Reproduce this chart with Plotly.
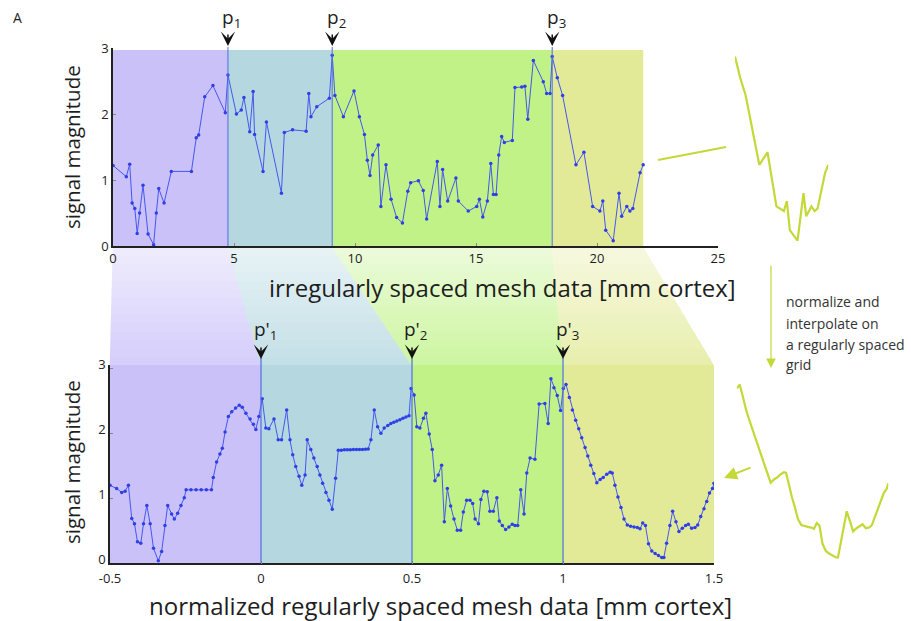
import plotly.graph_objects as go

W, H = 911, 621
FONT = "Open Sans"

# ---------------- data ----------------
top_x = [0.0, 0.55, 0.69, 0.79, 0.90, 1.00, 1.10, 1.24, 1.45, 1.68, 1.79, 1.89, 2.11, 2.41, 3.24,
         3.44, 3.54, 3.79, 4.13, 4.64, 4.75, 5.10, 5.30, 5.41, 5.65, 5.79, 5.85, 6.20, 6.34, 6.96,
         7.08, 7.42, 7.98, 8.09, 8.18, 8.42, 8.94, 9.06, 9.17, 9.52, 9.96, 10.18, 10.39, 10.51,
         10.62, 10.73, 10.96, 11.07, 11.28, 11.49, 11.72, 11.96, 12.18, 12.30, 12.62, 12.82,
         12.96, 13.40, 13.51, 13.62, 13.83, 14.17, 14.27, 14.68, 15.03, 15.14, 15.28, 15.47,
         15.61, 15.72, 15.83, 15.94, 16.06, 16.17, 16.50, 16.61, 16.89, 17.02, 17.14, 17.37,
         17.78, 17.92, 18.06, 18.15, 18.36, 18.58, 19.13, 19.46, 19.82, 20.12, 20.24, 20.36,
         20.67, 20.91, 21.02, 21.23, 21.36, 21.48, 21.78, 21.91]
top_y = [1.22, 1.05, 1.24, 0.65, 0.57, 0.19, 0.50, 0.92, 0.18, 0.02, 0.50, 0.87, 0.65, 1.13, 1.13,
         1.64, 1.68, 2.26, 2.43, 2.02, 2.59, 2.00, 2.06, 2.25, 1.73, 2.34, 1.69, 1.13, 1.88, 0.80,
         1.72, 1.76, 1.74, 2.31, 1.96, 2.11, 2.24, 2.89, 2.28, 1.96, 2.35, 1.96, 1.69, 1.30,
         1.07, 1.38, 1.53, 0.60, 1.23, 0.71, 0.43, 0.35, 0.83, 0.96, 0.99, 0.84,
         0.41, 1.28, 0.60, 1.16, 0.68, 1.03, 0.68, 0.53, 0.60, 0.71, 0.44, 0.68,
         1.25, 0.78, 0.78, 1.38, 1.66, 1.57, 1.60, 2.40, 2.41, 2.42, 1.92, 2.81,
         2.49, 2.31, 2.31, 2.87, 2.55, 2.28, 1.23, 1.42, 0.60, 0.53, 0.68, 0.24,
         0.08, 0.80, 0.45, 0.60, 0.53, 0.57, 1.11, 1.23]

bot_x = [-0.5, -0.478, -0.461, -0.45, -0.439, -0.428, -0.419, -0.409, -0.398, -0.389, -0.378,
         -0.367, -0.356, -0.340, -0.329, -0.318, -0.309, -0.296, -0.287, -0.276, -0.265, -0.254,
         -0.248, -0.232, -0.215, -0.198, -0.181, -0.164, -0.158, -0.147, -0.136, -0.128, -0.119,
         -0.108, -0.097, -0.084, -0.072, -0.062, -0.050, -0.036, -0.025, -0.017, -0.007, 0.004,
         0.016, 0.026, 0.043, 0.057, 0.068, 0.085, 0.096, 0.105, 0.115, 0.126, 0.135, 0.146,
         0.153, 0.165, 0.175, 0.186, 0.195, 0.204, 0.215, 0.225, 0.236, 0.247, 0.256, 0.266,
         0.276, 0.286, 0.296, 0.306, 0.316, 0.326, 0.336, 0.346, 0.355, 0.364, 0.375, 0.386,
         0.397, 0.408, 0.420, 0.430, 0.440, 0.450, 0.460, 0.470, 0.480, 0.490, 0.497, 0.507,
         0.516, 0.526, 0.538, 0.546, 0.557, 0.567, 0.576, 0.587, 0.598, 0.607, 0.617, 0.628,
         0.639, 0.650, 0.661, 0.670, 0.681, 0.692, 0.701, 0.709, 0.720, 0.728, 0.738, 0.749,
         0.758, 0.769, 0.781, 0.789, 0.799, 0.810, 0.821, 0.832, 0.841, 0.850, 0.860, 0.871,
         0.880, 0.891, 0.907, 0.921, 0.940, 0.951, 0.960, 0.970, 0.981, 0.992, 1.001, 1.010,
         1.021, 1.031, 1.042, 1.052, 1.062, 1.073, 1.082, 1.092, 1.102, 1.112, 1.123, 1.133,
         1.145, 1.156, 1.163, 1.172, 1.182, 1.192, 1.202, 1.213, 1.224, 1.235, 1.246, 1.255,
         1.264, 1.273, 1.283, 1.294, 1.305, 1.316, 1.327, 1.334, 1.343, 1.354, 1.363, 1.374,
         1.384, 1.395, 1.406, 1.415, 1.426, 1.437, 1.446, 1.456, 1.467, 1.476, 1.485, 1.495,
         1.5]
bot_y = [1.20, 1.15, 1.09, 1.11, 1.20, 0.69, 0.61, 0.33, 0.31, 0.61, 0.89,
         0.61, 0.23, 0.04, 0.18, 0.58, 0.89, 0.76, 0.68, 0.77, 0.89, 1.01,
         1.13, 1.13, 1.13, 1.13, 1.13, 1.13, 1.32, 1.56, 1.68, 1.77, 2.02,
         2.26, 2.33, 2.39, 2.43, 2.40, 2.31, 2.22, 2.14, 2.06, 2.26, 2.53,
         2.08, 2.07, 2.22, 1.90, 1.90, 2.36, 1.90, 1.67, 1.49, 1.34, 1.20, 1.36,
         1.90, 1.75, 1.62, 1.49, 1.36, 1.23, 1.09, 0.97, 0.83, 1.31, 1.74, 1.74,
         1.745, 1.745, 1.745, 1.75, 1.75, 1.75, 1.75, 1.755, 1.76, 1.90, 2.36, 2.10,
         2.00, 2.08, 2.12, 2.15, 2.17, 2.19, 2.21, 2.23, 2.25, 2.27, 2.69, 2.59,
         2.10, 2.08, 2.23, 2.31, 1.99, 1.75, 1.27, 1.36, 1.51, 0.64, 1.15, 0.88,
         0.68, 0.51, 0.51, 0.79, 0.97, 0.97, 0.92, 0.68, 0.61, 0.98, 1.11, 1.10,
         0.80, 0.80, 1.01, 0.65, 0.58, 0.52, 0.56, 0.60, 0.58, 0.58, 1.13, 0.76,
         1.39, 1.62, 1.60, 2.45, 2.46, 2.15, 2.84, 2.70, 2.58, 2.35, 2.69, 2.75,
         2.55, 2.36, 2.20, 2.07, 1.93, 1.78, 1.65, 1.51, 1.38, 1.24, 1.29, 1.32,
         1.37, 1.40, 1.39, 1.20, 1.02, 0.86, 0.68, 0.59, 0.57, 0.56, 0.55, 0.53,
         0.62, 0.58, 0.30, 0.19, 0.15, 0.12, 0.09, 0.09, 0.31, 0.58, 0.80, 0.64,
         0.49, 0.54, 0.58, 0.60, 0.54, 0.55, 0.59, 0.72, 0.84, 0.95, 1.08, 1.15,
         1.23]

top_bounds = [0.0, 4.75, 9.06, 18.15, 21.91]      # region edges; inner ones are p1..p3
bot_bounds = [-0.5, 0.0, 0.5, 1.0, 1.5]           # region edges; inner ones are p'1..p'3
region_rgb = [(202, 193, 249), (180, 215, 224), (192, 242, 136), (226, 234, 152)]
top_xticks = [0, 5, 10, 15, 20, 25]
bot_xticks = [-0.5, 0, 0.5, 1, 1.5]
bot_xticktext = ["-0.5", "0", "0.5", "1", "1.5"]
y_ticks = [0, 1, 2, 3]
top_p_labels = ["p<sub>1</sub>", "p<sub>2</sub>", "p<sub>3</sub>"]
bot_p_labels = ["p'<sub>1</sub>", "p'<sub>2</sub>", "p'<sub>3</sub>"]
top_xtitle = "irregularly spaced mesh data [mm cortex]"
bot_xtitle = "normalized regularly spaced mesh data [mm cortex]"
ytitle = "signal magnitude"
note_lines = ["normalize and", "interpolate on", "a regularly spaced", "grid"]

# ---------------- geometry (pixels) ----------------
TOPX = (113, 718); TOPY = (246, 48)       # x: 0..25 ; y: 0..3
BOTX = (110, 714); BOTY = (563.3, 365.0)  # x: -0.5..1.5 ; y: 0..BOT_YMAX
TOP_R = (0, 25); BOT_R = (-0.5, 1.5)
BOT_YMAX = (BOTY[0] - BOTY[1]) / 65.0

def px(xp):
    return xp / W

def py(yp):
    return 1 - yp / H

def top_px(x):
    return TOPX[0] + (x - TOP_R[0]) / (TOP_R[1] - TOP_R[0]) * (TOPX[1] - TOPX[0])

def bot_px(x):
    return BOTX[0] + (x - BOT_R[0]) / (BOT_R[1] - BOT_R[0]) * (BOTX[1] - BOTX[0])

def rgb(c, a=1.0):
    r, g, b = (round(255 * (1 - a) + v * a) for v in c)
    return f"rgb({r},{g},{b})"

LINE_C = "#4657ee"
MARK_C = "#2f3fe6"
THUMB_C = "#c4d838"
BOUND_C = "rgba(80,110,225,0.85)"

fig = go.Figure()
fig.add_trace(go.Scatter(x=top_x, y=top_y, mode="lines+markers", xaxis="x", yaxis="y",
                         line=dict(color=LINE_C, width=1), marker=dict(size=3.5, color=MARK_C),
                         hoverinfo="skip", showlegend=False))
fig.add_trace(go.Scatter(x=bot_x, y=bot_y, mode="lines+markers", xaxis="x2", yaxis="y2",
                         line=dict(color=LINE_C, width=1), marker=dict(size=3.5, color=MARK_C),
                         hoverinfo="skip", showlegend=False))

# thumbnails of the last region (copies of data)
p3 = top_bounds[3]
tx = [x for x in top_x if x >= p3]
ty = [y for x, y in zip(top_x, top_y) if x >= p3]
fig.add_trace(go.Scatter(x=tx, y=ty, mode="lines", xaxis="x3", yaxis="y",
                         line=dict(color=THUMB_C, width=2.2), hoverinfo="skip", showlegend=False,
                         cliponaxis=False))
bp3 = bot_bounds[3]
bx = [x for x in bot_x if x >= bp3]
by = [y for x, y in zip(bot_x, bot_y) if x >= bp3]
fig.add_trace(go.Scatter(x=bx, y=by, mode="lines", xaxis="x4", yaxis="y2",
                         line=dict(color=THUMB_C, width=2.2), hoverinfo="skip", showlegend=False,
                         cliponaxis=False))

shapes = []
# region rectangles
for i in range(4):
    shapes.append(dict(type="rect", xref="x", yref="y", x0=top_bounds[i], x1=top_bounds[i + 1],
                       y0=0, y1=2.97, fillcolor=rgb(region_rgb[i]), line=dict(width=0),
                       layer="below"))
    shapes.append(dict(type="rect", xref="x2", yref="y2", x0=bot_bounds[i], x1=bot_bounds[i + 1],
                       y0=0, y1=BOT_YMAX, fillcolor=rgb(region_rgb[i]), line=dict(width=0),
                       layer="below"))

# connecting trapezoids (fading towards the top plot), solid pre-blended colours
Y_A, Y_B = 247, 365.5
NB = 14
for b in range(NB):
    t0, t1 = b / NB, (b + 1) / NB
    ya = Y_A + (Y_B - Y_A) * t0
    yb = Y_A + (Y_B - Y_A) * t1
    a = 0.30 + 0.50 * (t0 + t1) / 2
    for i in range(4):
        def edge(k, t):
            return top_px(top_bounds[k]) + (bot_px(bot_bounds[k]) - top_px(top_bounds[k])) * t
        l0, r0 = edge(i, t0), edge(i + 1, t0)
        l1, r1 = edge(i, t1), edge(i + 1, t1)
        path = (f"M{px(l0 - 0.3)},{py(ya)} L{px(r0 + 0.3)},{py(ya)} L{px(r1 + 0.3)},{py(yb + 0.8)} "
                f"L{px(l1 - 0.3)},{py(yb + 0.8)} Z")
        shapes.append(dict(type="path", xref="paper", yref="paper", path=path,
                           fillcolor=rgb(region_rgb[i], a), line=dict(width=0), layer="below"))

# boundary lines at p positions
for p in top_bounds[1:4]:
    shapes.append(dict(type="line", xref="paper", yref="paper", x0=px(top_px(p)), x1=px(top_px(p)),
                       y0=py(246), y1=py(47), line=dict(color=BOUND_C, width=1.2)))
for p in bot_bounds[1:4]:
    shapes.append(dict(type="line", xref="paper", yref="paper", x0=px(bot_px(p)), x1=px(bot_px(p)),
                       y0=py(563.3), y1=py(358), line=dict(color=BOUND_C, width=1.4)))

# connector from top plot to its thumbnail
shapes.append(dict(type="line", xref="paper", yref="paper", x0=px(658), y0=py(160),
                   x1=px(726), y1=py(147), line=dict(color=THUMB_C, width=2)))

annotations = []
FC = "#1e1e1e"
for p, lab in zip(top_bounds[1:4], top_p_labels):
    annotations.append(dict(x=px(top_px(p)), y=py(46), xref="paper", yref="paper", text="",
                            showarrow=True, ax=0, ay=-13, arrowhead=3, arrowsize=1.6,
                            arrowwidth=1.5, arrowcolor="#111"))
    annotations.append(dict(x=px(top_px(p)) + 4 / W, y=py(18), xref="paper", yref="paper", text=lab,
                            showarrow=False, font=dict(family=FONT, size=19, color=FC),
                            xanchor="center", yanchor="middle"))
for p, lab in zip(bot_bounds[1:4], bot_p_labels):
    annotations.append(dict(x=px(bot_px(p)), y=py(359), xref="paper", yref="paper", text="",
                            showarrow=True, ax=0, ay=-13, arrowhead=3, arrowsize=1.6,
                            arrowwidth=1.5, arrowcolor="#111"))
    annotations.append(dict(x=px(bot_px(p)) + 4 / W, y=py(330), xref="paper", yref="paper", text=lab,
                            showarrow=False, font=dict(family=FONT, size=19, color=FC),
                            xanchor="center", yanchor="middle"))

annotations += [
    dict(x=px(502), y=py(287), xref="paper", yref="paper", text=top_xtitle, showarrow=False,
         font=dict(family=FONT, size=24, color=FC), xanchor="center", yanchor="middle"),
    dict(x=px(440), y=py(605), xref="paper", yref="paper", text=bot_xtitle, showarrow=False,
         font=dict(family=FONT, size=24, color=FC), xanchor="center", yanchor="middle"),
    dict(x=px(72), y=py(147), xref="paper", yref="paper", text=ytitle, showarrow=False,
         textangle=-90, font=dict(family=FONT, size=20.5, color=FC), xanchor="center",
         yanchor="middle"),
    dict(x=px(72), y=py(462), xref="paper", yref="paper", text=ytitle, showarrow=False,
         textangle=-90, font=dict(family=FONT, size=20.5, color=FC), xanchor="center",
         yanchor="middle"),
    dict(x=px(17), y=py(17), xref="paper", yref="paper", text="A", showarrow=False,
         font=dict(family=FONT, size=14, color=FC), xanchor="center", yanchor="middle"),
    # vertical arrow
    dict(x=px(771), y=py(368), xref="paper", yref="paper", text="", showarrow=True,
         ax=0, ay=-104, arrowhead=2, arrowsize=1.6, arrowwidth=1.2, arrowcolor=THUMB_C),
    # arrow into bottom plot
    dict(x=px(724), y=py(478), xref="paper", yref="paper", text="", showarrow=True,
         ax=28, ay=-11, arrowhead=2, arrowsize=1.3, arrowwidth=2, arrowcolor=THUMB_C),
]
for k, line in enumerate(note_lines):
    annotations.append(dict(x=px(784), y=py(302 + 21 * k), xref="paper", yref="paper", text=line,
                            showarrow=False, font=dict(family=FONT, size=14, color="#333"),
                            xanchor="left", yanchor="middle"))

axis_common = dict(showline=True, linecolor="#222", linewidth=1.5, ticks="inside", ticklen=3,
                   tickcolor="#888", showgrid=False, zeroline=False, automargin=False,
                   tickfont=dict(family=FONT, size=13, color=FC))

fig.update_layout(
    width=W, height=H, autosize=False,
    margin=dict(l=0, r=0, t=0, b=0, pad=0, autoexpand=False),
    paper_bgcolor="white", plot_bgcolor="rgba(0,0,0,0)", showlegend=False,
    xaxis=dict(domain=[px(TOPX[0]), px(TOPX[1])], range=list(TOP_R), anchor="y",
               tickvals=top_xticks, **axis_common),
    yaxis=dict(domain=[py(TOPY[0]), py(TOPY[1])], range=[0, 3], anchor="x",
               tickvals=y_ticks, **axis_common),
    xaxis2=dict(domain=[px(BOTX[0]), px(BOTX[1])], range=list(BOT_R), anchor="y2",
                tickvals=bot_xticks, ticktext=bot_xticktext, ticklabelstandoff=2, **axis_common),
    yaxis2=dict(domain=[py(BOTY[0]), py(BOTY[1])], range=[0, BOT_YMAX], anchor="x2",
                tickvals=y_ticks, ticklabelshift=-4, **axis_common),
    xaxis3=dict(domain=[px(735), px(828.3)], range=[top_bounds[3], top_bounds[4]], anchor="y",
                visible=False),
    xaxis4=dict(domain=[px(736.7), px(888.3)], range=[bot_bounds[3], bot_bounds[4]], anchor="y2",
                visible=False),
    shapes=shapes, annotations=annotations,
)

fig.write_html("out.html")
